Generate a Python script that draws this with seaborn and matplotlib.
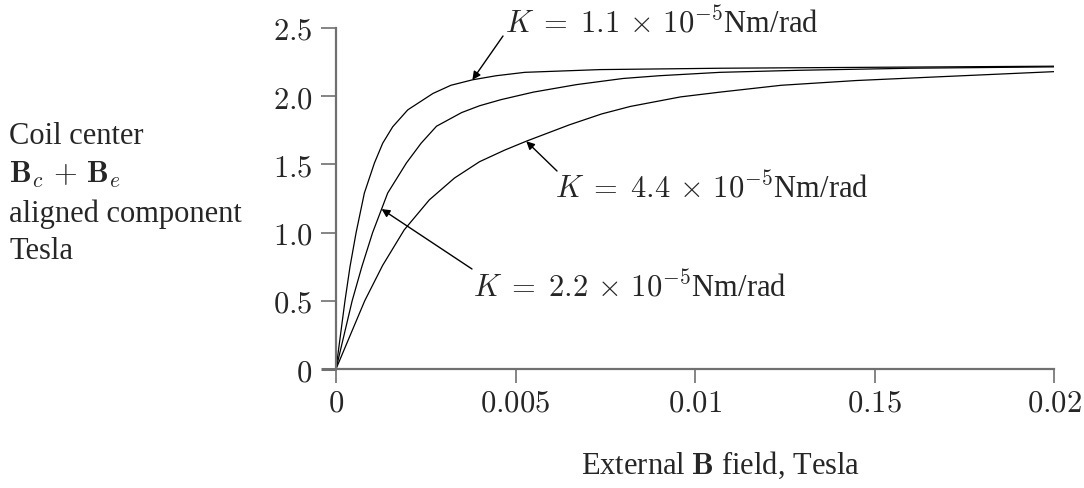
import numpy as np
import pandas as pd
import matplotlib
matplotlib.use("Agg")
import matplotlib.pyplot as plt
import seaborn as sns

# Coil-centre field (aligned component, Tesla) versus external field (Tesla)
# for three spring constants K of the suspension.
b_ext_k11 = [0.0, 0.00025, 0.00039, 0.00056, 0.00079, 0.00107, 0.0013, 0.00158,
             0.0020, 0.0027, 0.0032, 0.0038, 0.00446, 0.00526, 0.00735, 0.0107,
             0.0150, 0.0200]
b_coil_k11 = [0.0, 0.50, 0.75, 1.00, 1.29, 1.51, 1.655, 1.776,
              1.90, 2.02, 2.08, 2.12, 2.15, 2.175, 2.195, 2.205,
              2.212, 2.22]

b_ext_k22 = [0.0, 0.00045, 0.00072, 0.00102, 0.00144, 0.00196, 0.00237, 0.0028,
             0.0035, 0.0040, 0.0046, 0.0055, 0.0067, 0.0080, 0.0090, 0.0107,
             0.0129, 0.0160, 0.0200]
b_coil_k22 = [0.0, 0.50, 0.75, 1.00, 1.29, 1.51, 1.655, 1.78,
              1.88, 1.93, 1.975, 2.03, 2.085, 2.13, 2.15, 2.175,
              2.19, 2.205, 2.215]

b_ext_k44 = [0.0, 0.0008, 0.0013, 0.0019, 0.0026, 0.0033, 0.0040, 0.0047,
             0.0053, 0.0065, 0.0074, 0.0082, 0.0096, 0.0107, 0.0124, 0.0145,
             0.0166, 0.0200]
b_coil_k44 = [0.0, 0.50, 0.76, 1.02, 1.24, 1.40, 1.52, 1.605,
              1.67, 1.79, 1.87, 1.925, 1.995, 2.03, 2.08, 2.115,
              2.14, 2.18]

k_labels = [r"$K\;=\;1.1\,\times\,10^{-5}$Nm/rad",
            r"$K\;=\;2.2\,\times\,10^{-5}$Nm/rad",
            r"$K\;=\;4.4\,\times\,10^{-5}$Nm/rad"]

x_ticks = [0.0, 0.005, 0.01, 0.015, 0.02]
x_tick_labels = ["0", "0.005", "0.01", "0.15", "0.02"]
y_ticks = [0.0, 0.5, 1.0, 1.5, 2.0, 2.5]
y_tick_labels = ["0", "0.5", "1.0", "1.5", "2.0", "2.5"]

df = pd.concat([
    pd.DataFrame({"b_ext": b_ext_k11, "b_coil": b_coil_k11, "K": k_labels[0]}),
    pd.DataFrame({"b_ext": b_ext_k22, "b_coil": b_coil_k22, "K": k_labels[1]}),
    pd.DataFrame({"b_ext": b_ext_k44, "b_coil": b_coil_k44, "K": k_labels[2]}),
], ignore_index=True)

sns.set_theme(style="ticks")
plt.rcParams["font.family"] = ["Liberation Serif", "DejaVu Serif"]
plt.rcParams["mathtext.fontset"] = "cm"

W, H = 1084, 489
fig = plt.figure(figsize=(W / 100, H / 100), dpi=100)
ax = fig.add_axes([336 / W, 1 - 370 / H, (1054 - 336) / W, (370 - 29) / H])

sns.lineplot(data=df, x="b_ext", y="b_coil", hue="K",
             palette=["black"] * 3, estimator=None, sort=True,
             linewidth=0.9, legend=False, ax=ax)

ax.set_xlim(0, 0.02)
ax.set_ylim(0, 2.5)
ax.set_xlabel("")
ax.set_ylabel("")
for side in ("top", "right"):
    ax.spines[side].set_visible(False)
for side in ("left", "bottom"):
    ax.spines[side].set_color("#707070")
    ax.spines[side].set_linewidth(1.6)

ax.set_xticks(x_ticks)
ax.set_xticklabels([f"${t}$" for t in x_tick_labels])
ax.set_yticks(y_ticks)
ax.set_yticklabels([f"${t}$" for t in y_tick_labels])
ax.tick_params(axis="x", direction="out", length=10, width=1.2, color="#707070",
               pad=4, labelsize=22)
ax.tick_params(axis="y", direction="out", length=11, width=1.2, color="#707070",
               pad=6, labelsize=22)
# the zero tick on the vertical axis is drawn heavier
zero_tick = ax.yaxis.get_major_ticks()[0]
zero_tick.tick1line.set_color("black")
zero_tick.tick1line.set_markeredgewidth(2.2)


def px(x, y):
    return (x, H - y)


def tip(xs, ys, x):
    return (x, float(np.interp(x, xs, ys)))


arrow = dict(arrowstyle="-|>", color="black", lw=1.0,
             mutation_scale=12, shrinkA=0, shrinkB=0)

# K = 1.1e-5
ax.annotate("", xy=tip(b_ext_k11, b_coil_k11, 0.0038), xycoords="data",
            xytext=px(503, 37), textcoords="figure pixels", arrowprops=arrow)
fig.text(505 / W, 1 - 33 / H, k_labels[0], fontsize=22, ha="left", va="baseline")

# K = 4.4e-5
ax.annotate("", xy=tip(b_ext_k44, b_coil_k44, 0.0053), xycoords="data",
            xytext=px(557, 172), textcoords="figure pixels", arrowprops=arrow)
fig.text(555 / W, 1 - 198 / H, k_labels[2], fontsize=22, ha="left", va="baseline")

# K = 2.2e-5
ax.annotate("", xy=tip(b_ext_k22, b_coil_k22, 0.00127), xycoords="data",
            xytext=px(472, 270), textcoords="figure pixels", arrowprops=arrow)
fig.text(473 / W, 1 - 297 / H, k_labels[1], fontsize=22, ha="left", va="baseline")

# axis titles
fig.text(9 / W, 1 - 194 / H,
         "Coil center\n" r"$\mathbf{B}_c\,+\,\mathbf{B}_e$" "\naligned component\nTesla",
         fontsize=22, ha="left", va="center", linespacing=1.4)
fig.text(721 / W, 1 - 465 / H, r"External $\mathbf{B}$ field, Tesla",
         fontsize=22, ha="center", va="center")

fig.savefig("out.png", dpi=100)
